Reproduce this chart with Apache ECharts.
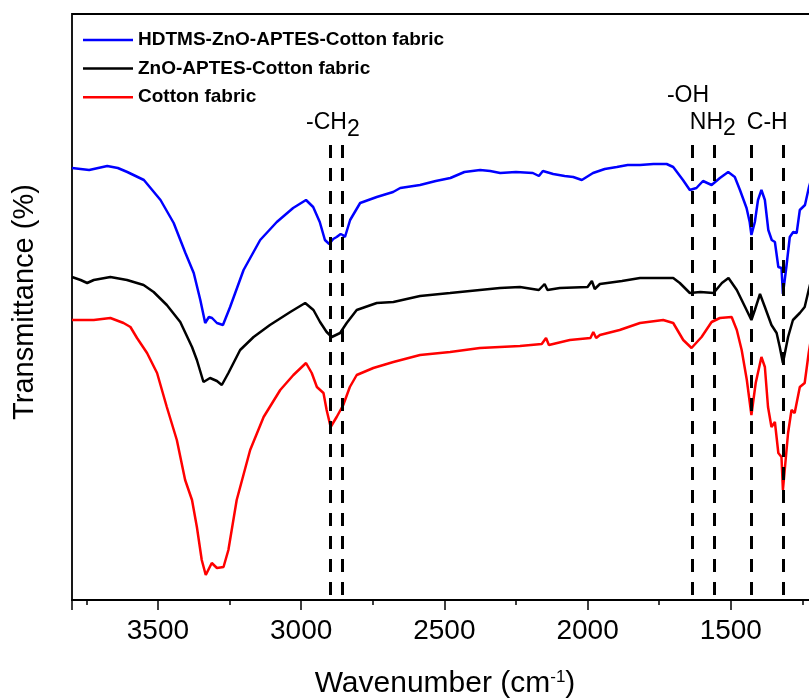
<!DOCTYPE html>
<html><head><meta charset="utf-8">
<script src="https://cdn.jsdelivr.net/npm/echarts@6/dist/echarts.min.js"></script>
<style>html,body{margin:0;padding:0;background:#fff;overflow:hidden}#c{width:900px;height:700px}</style>
</head><body><div id="c"></div>
<script>
// ---- data ----
const seriesNames = ['HDTMS-ZnO-APTES-Cotton fabric', 'ZnO-APTES-Cotton fabric', 'Cotton fabric'];
const seriesColors = ['#0000ff', '#000000', '#ff0000'];

const blueWn = [3800,3740,3677,3640,3607,3549,3491,3445,3404,3375,3352,3335,3322,3311,3294,3273,3248,3201,3143,3085,3028,2983,2958,2935,2917,2902,2888,2876,2862,2855,2847,2829,2794,2736,2679,2654,2585,2530,2479,2430,2375,2340,2305,2250,2191,2170,2156,2120,2080,2050,2020,1981,1940,1898,1860,1817,1770,1724,1701,1667,1643,1620,1597,1567,1538,1509,1486,1468,1445,1434,1428,1416,1405,1393,1381,1369,1357,1346,1334,1323,1318,1306,1294,1282,1270,1259,1241,1227,1215];
const blueT  = [43.2,43.0,43.4,43.2,42.8,42.0,40.0,37.7,34.7,32.7,30.0,27.7,28.3,28.2,27.7,27.5,29.3,33.0,36.0,37.8,39.2,40.0,39.3,37.8,36.0,35.6,36.1,36.3,36.6,36.5,36.3,38.0,39.7,40.3,40.8,41.2,41.5,41.9,42.2,42.8,43.0,42.9,42.7,42.8,42.7,42.4,42.9,42.6,42.4,42.3,42.0,42.7,43.1,43.3,43.5,43.5,43.6,43.6,43.3,42.0,41.0,41.2,41.9,41.5,42.2,42.8,42.3,41.0,39.2,37.8,36.5,37.8,40.0,41.0,40.0,37.0,36.0,35.8,33.3,33.2,30.6,33.3,36.3,36.8,36.7,39.0,39.5,41.3,42.5];

const blackWn = [3800,3770,3747,3724,3666,3608,3550,3515,3469,3422,3381,3364,3341,3318,3294,3277,3254,3213,3166,3109,3038,2986,2957,2934,2911,2893,2864,2841,2806,2736,2678,2585,2480,2376,2306,2236,2170,2150,2140,2097,2000,1985,1975,1957,1880,1817,1750,1701,1678,1643,1606,1560,1531,1508,1479,1450,1428,1416,1398,1381,1358,1340,1329,1318,1300,1283,1259,1242,1228,1215];
const blackT  = [32.3,32.0,31.7,32.0,32.3,32.0,31.5,30.8,29.5,27.8,25.3,24.0,21.8,22.2,21.9,21.5,22.7,25.0,26.3,27.5,28.8,29.7,29.0,27.8,26.8,26.3,26.7,27.7,29.0,29.7,29.8,30.4,30.7,31.0,31.2,31.3,31.0,31.6,31.0,31.2,31.3,31.9,31.1,31.6,31.9,32.2,32.2,32.2,31.7,30.7,30.8,30.7,31.7,32.2,31.0,29.3,28.0,29.0,30.6,29.3,27.5,26.7,25.3,23.7,26.3,28.0,28.7,29.3,31.0,32.5];

const redWn = [3800,3724,3666,3620,3596,3573,3538,3503,3469,3434,3405,3381,3364,3347,3333,3312,3294,3271,3254,3225,3178,3131,3073,3027,2983,2963,2945,2922,2911,2897,2876,2853,2830,2806,2748,2678,2585,2480,2376,2236,2160,2145,2135,2062,1990,1980,1970,1957,1888,1817,1736,1701,1666,1637,1602,1567,1538,1497,1479,1462,1444,1428,1413,1393,1381,1370,1358,1346,1334,1323,1318,1300,1288,1277,1259,1242,1228,1215];
const redT  = [28.0,28.0,28.2,27.7,27.3,26.2,24.7,22.7,19.3,16.0,12.0,10.0,7.3,4.0,2.5,3.7,3.2,3.3,5.0,10.0,15.0,18.3,21.0,22.5,23.7,22.7,21.3,20.7,19.0,17.3,18.3,19.5,21.3,22.5,23.2,23.8,24.5,24.8,25.2,25.4,25.6,26.2,25.5,26.0,26.2,26.8,26.2,26.5,27.0,27.7,28.0,27.7,26.0,25.2,26.3,27.8,28.2,28.3,27.0,25.0,22.0,18.5,21.7,24.3,23.3,19.3,17.3,17.8,14.7,14.3,11.0,16.7,19.0,18.7,21.3,21.7,24.7,27.0];

// x tick labels (wavenumber, cm-1)
const tickLabels = [3500, 3000, 2500, 2000, 1500];
// band marker positions (cm-1)
const peakLines = [2898, 2855, 1635, 1559, 1428, 1318];
// band annotation texts, anchored in data units [wavenumber, transmittance]
const annoText = ['-CH', '2', '-OH', 'NH', '2', 'C-H'];
const annoWn   = [2983, 2840, 1723, 1643, 1527, 1444];
const annoT    = [47.7, 47.0, 50.4, 47.75, 47.15, 47.75];

// ---- chart ----
const FONT = "'Liberation Sans', Arial, sans-serif";
const chart = echarts.init(document.getElementById('c'), null, {renderer: 'canvas'});
const zip = (a, b) => a.map((v, i) => [v, b[i]]);
const curves = [zip(blueWn, blueT), zip(blackWn, blackT), zip(redWn, redT)];

const series = curves.map((d, i) => ({
  name: seriesNames[i], type: 'line', data: d, showSymbol: false, symbol: 'none',
  xAxisIndex: 0, yAxisIndex: 0, smooth: false, animation: false,
  lineStyle: {color: seriesColors[i], width: 2.5}, itemStyle: {color: seriesColors[i]},
  z: 3
}));
series.push({
  name: 'bands', type: 'line', data: [], xAxisIndex: 0, yAxisIndex: 0, z: 5,
  markLine: {
    silent: true, symbol: ['none', 'none'], animation: false,
    label: {show: false},
    lineStyle: {color: '#000', width: 3, type: [13, 10]},
    data: peakLines.map(w => [{coord: [w, 45.5]}, {coord: [w, 0]}])
  }
});

const baseGraphic = [
  {id: 'xt', type: 'text', x: 445, y: 684, z: 10, style: {
    text: 'Wavenumber (cm{sup|-1})', fill: '#000', fontSize: 30, fontFamily: FONT,
    align: 'center', verticalAlign: 'middle',
    rich: {sup: {fontSize: 17, fontFamily: FONT, fill: '#000', verticalAlign: 'top', padding: [0,0,14,0]}}
  }},
  {id: 'yt', type: 'text', x: 25, y: 302, rotation: Math.PI / 2, z: 10, style: {
    text: 'Transmittance (%)', fill: '#000', fontSize: 29, fontFamily: FONT,
    align: 'center', verticalAlign: 'middle'
  }}
];

chart.setOption({
  backgroundColor: '#fff',
  animation: false,
  grid: {left: 72, top: 14, height: 586, width: 802, show: true, borderColor: '#000', borderWidth: 1.8, containLabel: false},
  legend: {
    data: seriesNames, orient: 'vertical', left: 83, top: 30, icon: 'rect', padding: 0,
    itemWidth: 50, itemHeight: 2.5, itemGap: 8.6,
    textStyle: {fontSize: 19, fontWeight: 'bold', fontFamily: FONT, color: '#000', lineHeight: 20}
  },
  xAxis: [{
    type: 'value', inverse: true, min: 1000, max: 3800, interval: 250, position: 'bottom',
    axisLine: {show: true, lineStyle: {color: '#000', width: 1.8}},
    axisTick: {show: true, inside: false, length: 5, lineStyle: {color: '#000', width: 1.5}},
    axisLabel: {show: true, margin: 17, fontSize: 28, fontFamily: FONT, color: '#000',
      formatter: v => tickLabels.indexOf(v) >= 0 ? String(v) : ''},
    splitLine: {show: false}
  }, {
    type: 'value', inverse: true, min: 1000, max: 3800, interval: 500, position: 'bottom', offset: 0,
    axisLine: {show: false},
    axisTick: {show: true, inside: false, length: 10, lineStyle: {color: '#000', width: 1.5}},
    axisLabel: {show: false}, splitLine: {show: false}
  }],
  yAxis: {
    type: 'value', min: 0, max: 58.6,
    axisLine: {show: false}, axisTick: {show: false}, axisLabel: {show: false}, splitLine: {show: false}
  },
  graphic: baseGraphic,
  series: series
});

// band annotations placed through the axis scales
const annoGraphic = annoText.map((t, i) => {
  const p = chart.convertToPixel({xAxisIndex: 0, yAxisIndex: 0}, [annoWn[i], annoT[i]]);
  return {id: 'a' + i, type: 'text', x: p[0], y: p[1], z: 10, style: {
    text: t, fill: '#000', fontSize: 23, fontFamily: FONT, align: 'left', verticalAlign: 'middle'
  }};
});
chart.setOption({graphic: baseGraphic.concat(annoGraphic)});
</script>
</body></html>
